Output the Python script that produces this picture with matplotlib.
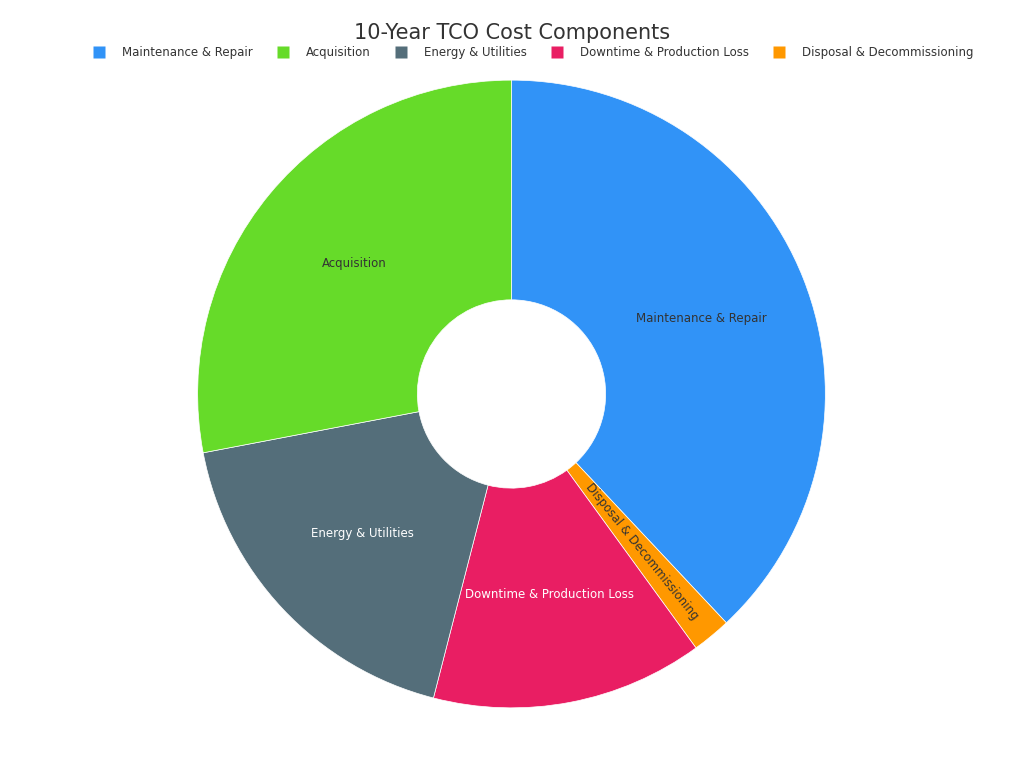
import matplotlib
matplotlib.use("Agg")
import matplotlib.pyplot as plt
from matplotlib.lines import Line2D

labels = ["Maintenance & Repair", "Disposal & Decommissioning", "Downtime & Production Loss",
          "Energy & Utilities", "Acquisition"]
values = [38, 2, 14, 18, 28]
colors = ["#3193F7", "#FF9800", "#E91E63", "#546E7A", "#66DB29"]
text_colors = ["#333333", "#333333", "white", "white", "#333333"]

legend_order = ["Maintenance & Repair", "Acquisition", "Energy & Utilities",
                "Downtime & Production Loss", "Disposal & Decommissioning"]

fig = plt.figure(figsize=(10.24, 7.68), dpi=100)
ax = fig.add_axes([0.193, 0.078, 0.613, 0.818])
wedges, texts = ax.pie(values, labels=labels, colors=colors, startangle=90, counterclock=False,
                       labeldistance=0.65, wedgeprops=dict(width=0.7, edgecolor="white", linewidth=0.5),
                       textprops=dict(fontsize=8.5))
for t, c in zip(texts, text_colors):
    t.set_color(c)
    t.set_ha("center"); t.set_va("center")
texts[1].set_rotation(-51)
ax.set_aspect("equal")
ax.set_xlim(-1, 1)
ax.set_ylim(-1, 1)

fig.text(0.5, 0.957, "10-Year TCO Cost Components", ha="center", va="center", fontsize=15, color="#333333")
handles = [Line2D([], [], marker="s", linestyle="", markersize=8,
                  markerfacecolor=colors[labels.index(l)], markeredgecolor="none") for l in legend_order]
fig.legend(handles, legend_order, loc="center", bbox_to_anchor=(0.518, 0.931), ncol=5, frameon=False,
           fontsize=8.5, handletextpad=0.9, columnspacing=1.6, labelcolor="#333333")
fig.savefig("out.png")
